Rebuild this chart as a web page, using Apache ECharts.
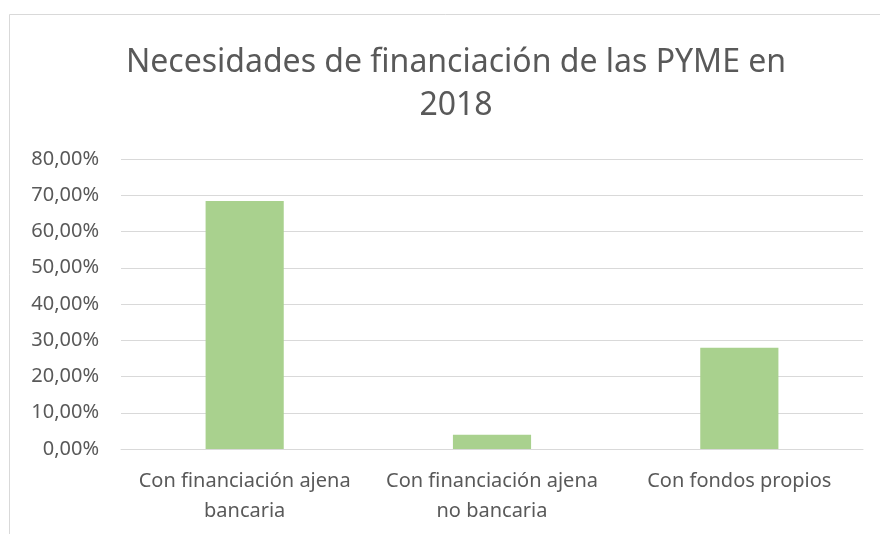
<!DOCTYPE html>
<html>
<head>
<meta charset="utf-8">
<script src="https://cdn.jsdelivr.net/npm/echarts@6/dist/echarts.min.js"></script>
<style>
  html, body { margin: 0; padding: 0; background: #fff; }
  #chart { width: 880px; height: 534px; }
</style>
</head>
<body>
<div id="chart"></div>
<script>
const titleText = 'Necesidades de financiación de las PYME en\n2018';
const categories = [
  'Con financiación ajena\nbancaria',
  'Con financiación ajena\nno bancaria',
  'Con fondos propios'
];
const shares = [0.684, 0.039, 0.279];
const yMax = 0.8;
const yStep = 0.1;

const font = '"Noto Sans", sans-serif';
const textColor = '#595959';

const chart = echarts.init(document.getElementById('chart'), null, { renderer: 'canvas' });

chart.setOption({
  animation: false,
  backgroundColor: '#fff',
  graphic: [{
    type: 'rect',
    shape: { x: 9.5, y: 14.5, width: 900, height: 600 },
    style: { fill: 'none', stroke: '#d9d9d9', lineWidth: 1 },
    silent: true,
    z: -1
  }],
  title: {
    text: titleText,
    left: 451,
    top: 36,
    textAlign: 'center',
    textStyle: {
      fontFamily: font,
      fontWeight: 'normal',
      fontSize: 32,
      color: textColor,
      lineHeight: 43
    }
  },
  grid: { left: 121, right: 17, top: 159, bottom: 85, containLabel: false },
  xAxis: {
    type: 'category',
    data: categories,
    axisLine: { lineStyle: { color: '#d9d9d9', width: 1 } },
    axisTick: { show: false },
    axisLabel: {
      interval: 0,
      hideOverlap: false,
      fontFamily: font,
      fontSize: 20,
      color: textColor,
      lineHeight: 30,
      margin: 17
    }
  },
  yAxis: {
    type: 'value',
    min: 0,
    max: yMax,
    interval: yStep,
    axisLine: { show: false },
    axisTick: { show: false },
    splitLine: { lineStyle: { color: '#d9d9d9', width: 1 } },
    axisLabel: {
      fontFamily: font,
      fontSize: 20,
      color: textColor,
      margin: 22,
      formatter: v => (v * 100).toFixed(2).replace('.', ',') + '%'
    }
  },
  series: [{
    type: 'bar',
    data: shares,
    barWidth: '31.6%',
    itemStyle: { color: '#a9d18e' }
  }]
});
</script>
</body>
</html>
